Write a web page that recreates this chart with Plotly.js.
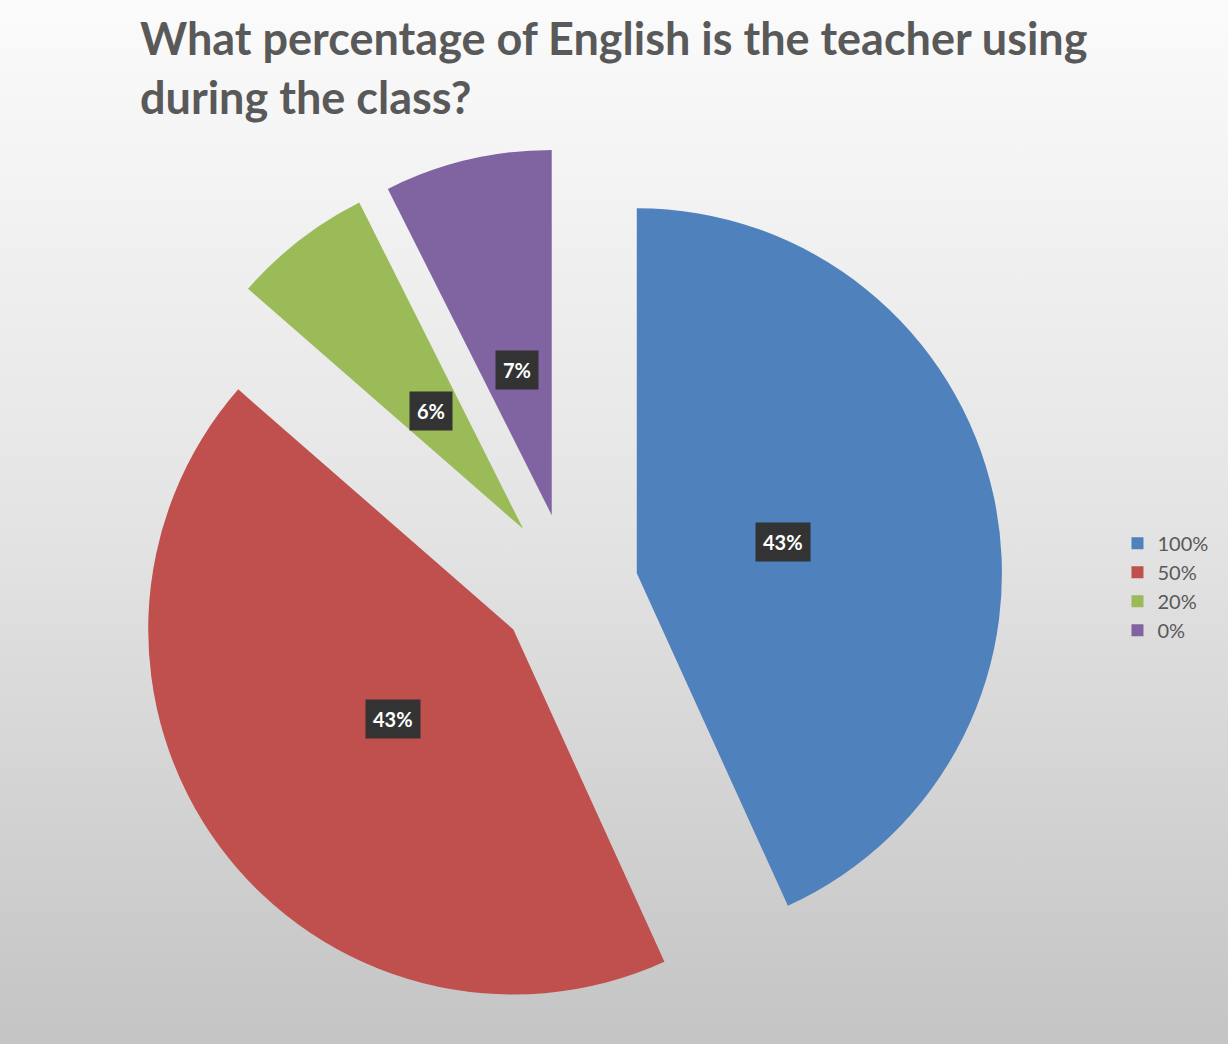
<!DOCTYPE html>
<html>
<head>
<meta charset="utf-8">
<script src="https://cdn.plot.ly/plotly-3.0.1.min.js"></script>
<style>
  html, body { margin: 0; padding: 0; }
  body { width: 1228px; height: 1044px; background: linear-gradient(to bottom, #fbfbfb 0%, #e4e4e4 50%, #c4c4c4 100%); }
  #chart { width: 1228px; height: 1044px; }
</style>
</head>
<body>
<div id="chart"></div>
<script>
const categories = ["100%", "50%", "20%", "0%"];
const responses = [35, 35, 5, 6];
const sliceColors = ["#4F81BD", "#C0504D", "#9BBB59", "#8064A2"];
const pulls = [0.19, 0.19, 0.205, 0.205];
const titleText = "What percentage of English is the teacher using<br>during the class?";

const trace = {
  type: "pie",
  labels: categories,
  values: responses,
  sort: false,
  direction: "clockwise",
  rotation: 0,
  pull: pulls,
  marker: { colors: sliceColors, line: { width: 0 } },
  textinfo: "none",
  hovertemplate: "%{label}: %{percent:.0%}<extra></extra>",
  domain: { x: [0.1050, 0.8217], y: [0.0153, 0.8582] }
};

const layout = {
  width: 1228,
  height: 1044,
  margin: { l: 0, r: 0, t: 0, b: 0 },
  paper_bgcolor: "rgba(0,0,0,0)",
  plot_bgcolor: "rgba(0,0,0,0)",
  title: {
    text: titleText,
    x: 0.114, xanchor: "left", xref: "container",
    y: 0.947, yanchor: "top", yref: "container",
    font: { family: "Lato, 'Open Sans', sans-serif", size: 45, color: "#595959", weight: "bold" }
  },
  showlegend: true,
  legend: {
    x: 0.910, xanchor: "left",
    y: 0.438, yanchor: "middle",
    font: { family: "Lato, 'Open Sans', sans-serif", size: 20, color: "#595959" },
    bgcolor: "rgba(0,0,0,0)",
    traceorder: "normal"
  }
};

Plotly.newPlot("chart", [trace], layout, { displayModeBar: false }).then(function (gd) {
  // Place percentage labels (dark boxes) along each slice's bisector, using the library's computed pie geometry.
  const cd = gd.calcdata[0];
  const cd0 = cd[0];
  const W = gd._fullLayout.width, H = gd._fullLayout.height;
  const anns = cd.map(function (pt) {
    const len = Math.hypot(pt.pxmid[0], pt.pxmid[1]) || 1;
    const ux = pt.pxmid[0] / len, uy = pt.pxmid[1] / len;
    const dist = (pulls[pt.i] + 0.41) * cd0.r;
    const px = cd0.cx + ux * dist;
    const py = cd0.cy + uy * dist;
    return {
      x: px / W, y: 1 - py / H, xref: "paper", yref: "paper",
      text: Math.round(pt.v / cd0.vTotal * 100) + "%",
      showarrow: false,
      font: { family: "Lato, 'Open Sans', sans-serif", size: 20, color: "#ffffff", weight: "bold" },
      bgcolor: "#333333",
      borderpad: 7,
      xanchor: "center", yanchor: "middle"
    };
  });
  return Plotly.relayout(gd, { annotations: anns });
});
</script>
</body>
</html>
